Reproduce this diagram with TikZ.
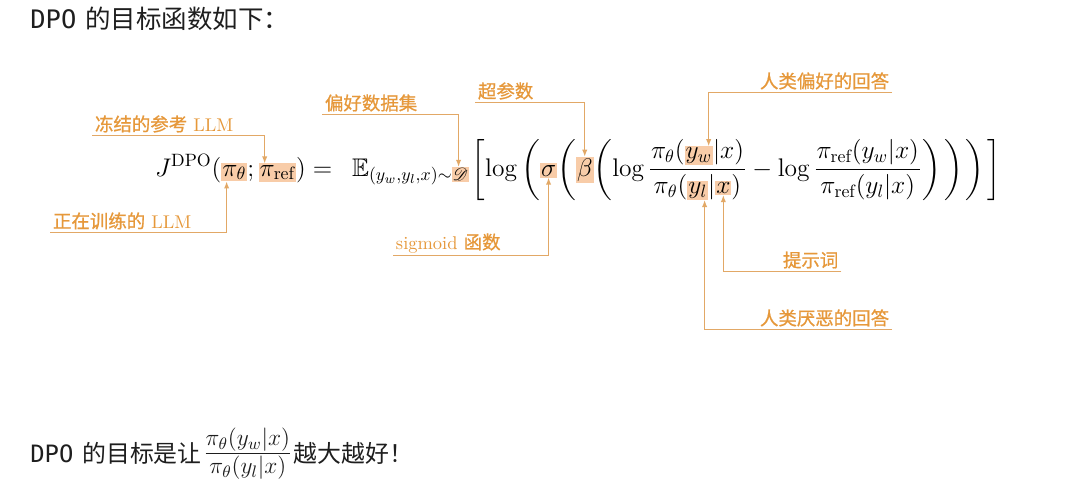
\RequirePackage{fix-cm}
\documentclass[tikz,border=0pt]{standalone}
\usepackage{amsmath,amssymb}
\usepackage{mathrsfs}
\usepackage{fontspec}
\newfontfamily\cjk{Noto Sans CJK SC}
\newfontfamily\cjknote[FakeBold=0.8]{Noto Sans CJK SC}
\newfontfamily\hdmono{DejaVu Sans Mono}
\usetikzlibrary{arrows.meta,positioning,calc}
\definecolor{hlfill}{HTML}{F8CCA8}
\definecolor{notetxt}{HTML}{E6983A}
\definecolor{noteln}{HTML}{E2A866}
\definecolor{headgray}{HTML}{1E1E1E}
\newcommand{\eqfont}{\fontsize{14.5}{17}\selectfont\nulldelimiterspace=0pt}
\newcommand{\fracph}{\vphantom{\dfrac{\pi_\theta(y_w|x)}{\pi_\theta(y_l|x)}}}
\newcommand{\eqopen}[1]{\left#1\fracph\right.}
\newcommand{\eqclose}[1]{\left.\fracph\right#1}

\begin{document}
\begin{tikzpicture}[x=0.02cm,y=-0.02cm,
  eqpart/.style={inner sep=0pt, outer sep=0pt, font=\eqfont},
  hlbox/.style={eqpart, fill=hlfill, inner xsep=0.6pt, inner ysep=0.9pt},
  fracrule/.style={line width=0.58pt},
  headtext/.style={inner sep=0pt, anchor=base west, text=headgray},
  notetext/.style={inner sep=1.5pt, anchor=base west, text=notetxt, font=\fontsize{10.5}{12}\selectfont},
  notearrow/.style={draw=noteln, line width=0.7pt, -{Latex[length=4pt,width=3pt]}}]
\path[use as bounding box, fill=white] (0,0) rectangle (1080,501);

\node[headtext, font=\fontsize{14.5}{17}\selectfont\cjk] (title) at (30,28) {{\hdmono DPO}\kern5pt 的目标函数如下：};

\node[eqpart, anchor=base west] (J) at (155,176) {$J^{\mathrm{DPO}}($};
\node[hlbox, base right=0pt of J] (pth) {$\pi_\theta$};
\node[eqpart, base right=0pt of pth] (semi) {$;\,$};
\node[hlbox, base right=0pt of semi] (pref) {$\pi_{\mathrm{ref}}$};
\node[eqpart, base right=0pt of pref] (eqE) {$)=\mkern9mu\mathbb{E}$};
\node[eqpart, base right=0pt of eqE, yshift=-2.7pt] (sub) {$\scriptstyle(y_w,y_l,x)\sim$};
\node[hlbox, base right=0pt of sub] (D) {$\scriptstyle\mathscr{D}$};
\node[eqpart, anchor=base west] (brk) at ($(D.base east |- eqE.base)+(1.5pt,0)$) {$\mathopen{\eqopen[}\log\eqopen($};
\node[hlbox, base right=0pt of brk] (sig) {$\sigma$};
\node[eqpart, base right=0pt of sig] (op2) {$\eqopen($};
\node[hlbox, base right=0pt of op2] (bet) {$\beta$};
\node[eqpart, base right=0pt of bet] (op3) {$\mathopen{\eqopen(}\log\mkern3mu$};

\node[eqpart, anchor=base west] (n1) at ($(op3.base east)+(1.5pt,9.8pt)$) {$\pi_\theta($};
\node[hlbox, base right=0pt of n1] (yw) {$y_w$};
\node[eqpart, base right=0pt of yw] (n3) {$|x)$};
\node[eqpart, anchor=base west] (d1) at ($(op3.base east)+(3pt,-9.95pt)$) {$\pi_\theta($};
\node[hlbox, base right=0pt of d1] (yl) {$y_l$};
\node[eqpart, base right=0pt of yl] (d3) {$|$};
\node[hlbox, base right=0pt of d3] (xx) {$x$};
\node[eqpart, base right=0pt of xx] (d5) {$)$};
\draw[fracrule] ($(n1.base west)+(-0.5pt,-6.2pt)$) -- ($(n3.base east)+(0.5pt,-6.2pt)$);

\node[eqpart, anchor=base west] (mn) at ($(n3.base east |- op3.base)+(1.5pt,0)$) {$\mkern4mu{-}\mkern1mu\log\mkern3mu$};
\node[eqpart, anchor=base west] (n2) at ($(mn.base east)+(1.5pt,9.8pt)$) {$\pi_{\mathrm{ref}}(y_w|x)$};
\node[eqpart, anchor=base] (d2) at ($(n2.base)+(0,-19.75pt)$) {$\pi_{\mathrm{ref}}(y_l|x)$};
\draw[fracrule] ($(n2.base west)+(-0.5pt,-6.2pt)$) -- ($(n2.base east)+(0.5pt,-6.2pt)$);
\node[eqpart, anchor=base west] (cls) at ($(n2.base east |- mn.base)+(2pt,0)$) {$\eqclose)\mkern-1mu\eqclose)\mkern-1mu\eqclose)\mkern-1mu\eqclose]$};

\node[notetext] (lbA) at (92,131) {{\cjknote 冻结的参考} LLM};
\node[notetext] (lbB) at (50,228) {{\cjknote 正在训练的} LLM};
\node[notetext] (lbC) at (322,110) {\cjknote 偏好数据集};
\node[notetext] (lbD) at (475,98) {\cjknote 超参数};
\node[notetext] (lbE) at (393,249) {sigmoid {\cjknote 函数}};
\node[notetext] (lbF) at (757,88) {\cjknote 人类偏好的回答};
\node[notetext] (lbG) at (780,267) {\cjknote 提示词};
\node[notetext] (lbH) at (757,325) {\cjknote 人类厌恶的回答};

\draw[notearrow] (lbA.south west) -| ([xshift=3.5pt]pref.north west);
\draw[notearrow] (lbB.south west) -| ([xshift=3pt]pth.south west);
\draw[notearrow] (lbC.south west) -| ([xshift=-1pt]D.north);
\draw[notearrow] (lbD.south west) -| (bet.north);
\draw[notearrow] (lbE.south west) -| (sig.south);
\draw[notearrow] (lbF.south east) -| ([xshift=-2.5pt]yw.north east);
\draw[notearrow] (lbG.south east) -| (xx.south);
\draw[notearrow] (lbH.south east) -| ([xshift=-2pt]yl.south east);

\node[headtext, font=\fontsize{13.6}{16}\selectfont\cjk] (goal) at (30,462) {{\hdmono DPO}\kern5pt 的目标是让\kern1pt{\fontsize{19}{22}\selectfont$\frac{\pi_\theta(y_w|x)}{\pi_\theta(y_l|x)}$}\kern1pt 越大越好！};
\end{tikzpicture}
\end{document}
